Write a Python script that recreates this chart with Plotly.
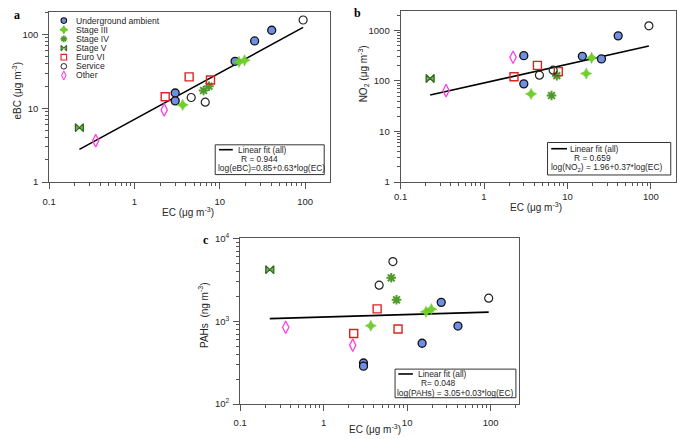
import numpy as np
import plotly.graph_objects as go

W, H = 677, 439

# ---------------- data ----------------
ec_underground = [3.0, 3.0, 15.1, 25.6, 40.6]
ebc_underground = [16.1, 12.6, 43.3, 81.6, 114]
no2_underground = [316, 87.5, 307, 273, 778]
pah_underground = [313, 287, 542, 1686, 873]

ec_stage3 = [3.67, 16.8, 19.5]
ebc_stage3 = [11.1, 42.4, 44.6]
no2_stage3 = [55.4, 140, 285]
pah_stage3 = [881, 1297, 1396]

ec_stage4 = [6.45, 7.46]
ebc_stage4 = [17.4, 19.9]
no2_stage4 = [51.5, 127]
pah_stage4 = [3334, 1811]

ec_stage5 = [0.226]
ebc_stage5 = [5.46]
no2_stage5 = [112]
pah_stage5 = [4179]

ec_euro6 = [2.29, 4.37, 7.78]
ebc_euro6 = [14.3, 26.6, 24.1]
no2_euro6 = [121, 203, 153]
pah_euro6 = [711, 1406, 805]

ec_service = [4.62, 6.75, 94.8]
ebc_service = [14.0, 12.1, 157]
no2_service = [130, 163, 1229]
pah_service = [2717, 5233, 1892]

ec_other = [0.351, 2.23]
ebc_other = [3.64, 9.5]
no2_other = [64.3, 294]
pah_other = [844, 514]

categories = ["Underground ambient", "Stage III", "Stage IV", "Stage V",
              "Euro VI", "Service", "Other"]

# fit coefficients: log(y) = a + b*log(EC)
fit_ebc = (0.85, 0.63)
fit_no2 = (1.96, 0.37)
fit_pah = (3.05, 0.03)
r_ebc, r_no2, r_pah = 0.944, 0.659, 0.048

# ---------------- styles ----------------
styles = {
    "Underground ambient": dict(symbol="circle", size=8, color="#6f8fe4",
                                line=dict(color="#111111", width=1.3)),
    "Stage III": dict(symbol="star-diamond", size=8, color="#6fd02a",
                      line=dict(color="#5cbf1c", width=0.5)),
    "Stage IV": dict(symbol="asterisk-open", size=8, color="#4f9a2a",
                     line=dict(color="#4f9a2a", width=2)),
    "Stage V": dict(symbol="bowtie", size=8, color="#7aac55",
                    line=dict(color="#2f6d1e", width=1.3)),
    "Euro VI": dict(symbol="square-open", size=8, color="#dd2222",
                    line=dict(color="#dd2222", width=1.4)),
    "Service": dict(symbol="circle-open", size=8, color="#222222",
                    line=dict(color="#222222", width=1.2)),
    "Other": dict(symbol="diamond-tall-open", size=9, color="#ff40e0",
                  line=dict(color="#ff40e0", width=1.3)),
}

ec_all = [ec_underground, ec_stage3, ec_stage4, ec_stage5, ec_euro6, ec_service, ec_other]
ebc_all = [ebc_underground, ebc_stage3, ebc_stage4, ebc_stage5, ebc_euro6, ebc_service, ebc_other]
no2_all = [no2_underground, no2_stage3, no2_stage4, no2_stage5, no2_euro6, no2_service, no2_other]
pah_all = [pah_underground, pah_stage3, pah_stage4, pah_stage5, pah_euro6, pah_service, pah_other]

FONT = "Liberation Sans, Arial, sans-serif"
AXC = "#555555"
TXT = "#262626"


def fx(p):
    return p / W


def fy(p):
    return 1 - p / H


fig = go.Figure()

panels = [
    dict(ax="", x=(42.7, 326.7), y=(4.7, 180.0), xr=[-1, 2.29], yr=[0, 2.31], ys=ebc_all, fit=fit_ebc),
    dict(ax="2", x=(398.3, 676.5), y=(4.0, 180.0), xr=[-1, 2.296], yr=[0, 3.385], ys=no2_all, fit=fit_no2),
    dict(ax="3", x=(236.0, 517.7), y=(237.7, 408.3), xr=[-1, 2.335], yr=[2, 4], ys=pah_all, fit=fit_pah),
]

ec_flat = np.concatenate([np.array(v, float) for v in ec_all])
ec_lo, ec_hi = ec_flat.min(), ec_flat.max()

for p in panels:
    xa, ya = "x" + p["ax"], "y" + p["ax"]
    a, b = p["fit"]
    xl = np.logspace(np.log10(ec_lo), np.log10(ec_hi), 30)
    yl = 10 ** (a + b * np.log10(xl))
    fig.add_trace(go.Scatter(x=xl, y=yl, mode="lines", xaxis=xa, yaxis=ya,
                             showlegend=False, line=dict(color="#000000", width=1.6)))
    for cat, xs, ys in zip(categories, ec_all, p["ys"]):
        st = styles[cat]
        fig.add_trace(go.Scatter(x=xs, y=ys, mode="markers", xaxis=xa, yaxis=ya,
                                 showlegend=False, name=cat,
                                 marker=dict(symbol=st["symbol"], size=st["size"],
                                             color=st["color"], line=st["line"])))


def xaxis_cfg(p, standoff):
    return dict(type="log", range=p["xr"], domain=[fx(p["x"][0]), fx(p["x"][1])],
                anchor="y" + p["ax"], showline=True, mirror=True, linecolor=AXC, linewidth=1,
                ticks="outside", ticklen=6, tickcolor=AXC, tickwidth=1,
                tickmode="array",
                tickvals=[0.1, 1, 10, 100], ticktext=["0.1", "1", "10", "100"],
                minor=dict(ticks="outside", ticklen=3, tickcolor=AXC, tickwidth=1,
                           dtick="D1", showgrid=False),
                ticklabelstandoff=standoff,
                showgrid=False, zeroline=False,
                tickfont=dict(family=FONT, size=9.5, color=TXT))


def yaxis_cfg(p, vals, text):
    return dict(type="log", range=p["yr"], domain=[fy(p["y"][1]), fy(p["y"][0])],
                anchor="x" + p["ax"], showline=True, mirror=True, linecolor=AXC, linewidth=1,
                ticks="outside", ticklen=6, tickcolor=AXC, tickwidth=1,
                tickmode="array",
                tickvals=vals, ticktext=text,
                minor=dict(ticks="outside", ticklen=3, tickcolor=AXC, tickwidth=1,
                           dtick="D1", showgrid=False),
                ticklabelstandoff=2,
                showgrid=False, zeroline=False,
                tickfont=dict(family=FONT, size=9.5, color=TXT))


pa, pb, pc = panels
layout = dict(
    width=W, height=H, margin=dict(l=0, r=0, t=0, b=0),
    paper_bgcolor="white", plot_bgcolor="rgba(0,0,0,0)", showlegend=False,
    xaxis=xaxis_cfg(pa, 5), yaxis=yaxis_cfg(pa, [1, 10, 100], ["1", "10", "100"]),
    xaxis2=xaxis_cfg(pb, 0), yaxis2=yaxis_cfg(pb, [1, 10, 100, 1000], ["1", "10", "100", "1000"]),
    xaxis3=xaxis_cfg(pc, 3),
    yaxis3=yaxis_cfg(pc, [100, 1000, 10000], ["10<sup>2</sup>", "10<sup>3</sup>", "10<sup>4</sup>"]),
    xaxis4=dict(domain=[0, 1], range=[0, W], visible=False, fixedrange=True, anchor="y4"),
    yaxis4=dict(domain=[0, 1], range=[H, 0], visible=False, fixedrange=True, anchor="x4"),
)
fig.update_layout(**layout)

# ---------------- legend (panel a) drawn on an overlay axis ----------------
leg_x, leg_y0, leg_dy, leg_tx = 57.5, 14.0, 9.4, 69
for i, cat in enumerate(categories):
    st = styles[cat]
    fig.add_trace(go.Scatter(x=[leg_x], y=[leg_y0 + i * leg_dy], mode="markers",
                             xaxis="x4", yaxis="y4", showlegend=False, hoverinfo="skip",
                             marker=dict(symbol=st["symbol"], size=st["size"] * 0.7,
                                         color=st["color"],
                                         line=dict(color=st["line"]["color"],
                                                   width=max(1.0, st["line"]["width"] * 0.8)))))

annotations = []
shapes = []


def txt(x, y, s, size=8.4, xanchor="left", yanchor="middle", family=FONT, angle=0, color=TXT):
    annotations.append(dict(x=fx(x), y=fy(y), xref="paper", yref="paper", text=s,
                            showarrow=False, xanchor=xanchor, yanchor=yanchor, textangle=angle,
                            borderpad=0,
                            font=dict(family=family, size=size, color=color)))


for i, cat in enumerate(categories):
    txt(leg_tx, leg_y0 + i * leg_dy, cat, size=8.6)

fit_boxes = [
    dict(box=(210.7, 141.7, 321.0, 172.3), line=(214.5, 228.5), ly=146.7, t1x=232.5,
         rx=235.5, ry=156.0, eqx=212.5, eqy=165.5,
         r="R = %.3f" % r_ebc,
         eq="log(eBC)=%.2f+%.2f*log(EC)" % fit_ebc),
    dict(box=(547.0, 139.3, 671.7, 172.7), line=(550.7, 566.7), ly=145.7, t1x=569.0,
         rx=572.5, ry=155.3, eqx=549.0, eqy=165.3,
         r="R = %.3f" % r_no2,
         eq="log(NO<sub>2</sub>) = %.2f+%.2f*log(EC)" % fit_no2),
    dict(box=(392.7, 372.3, 515.0, 401.7), line=(396.0, 410.7), ly=377.3, t1x=415.0,
         rx=418.0, ry=386.7, eqx=394.0, eqy=396.7,
         r="R= %.3f" % r_pah,
         eq="log(PAHs) = %.2f+%.2f*log(EC)" % fit_pah),
]
for fb in fit_boxes:
    x0, y0, x1, y1 = fb["box"]
    shapes.append(dict(type="rect", xref="paper", yref="paper", x0=fx(x0), x1=fx(x1),
                       y0=fy(y1), y1=fy(y0), line=dict(color="#333333", width=1),
                       fillcolor="white", layer="above"))
    shapes.append(dict(type="line", xref="paper", yref="paper", x0=fx(fb["line"][0]),
                       x1=fx(fb["line"][1]), y0=fy(fb["ly"]), y1=fy(fb["ly"]),
                       line=dict(color="#000000", width=1.6), layer="above"))
    txt(fb["t1x"], fb["ly"], "Linear fit (all)")
    txt(fb["rx"], fb["ry"], fb["r"])
    txt(fb["eqx"], fb["eqy"], fb["eq"])

txt(183, 211, "EC (μg m<sup>-3</sup>)", size=10, xanchor="center")
txt(535, 205.5, "EC (μg m<sup>-3</sup>)", size=10, xanchor="center")
txt(372, 434, "EC (μg m<sup>-3</sup>)", size=10, xanchor="center")
txt(10, 86, "eBC (μg m<sup>-3</sup>)", size=10, xanchor="center", angle=-90)
txt(360.5, 69, "NO<sub>2</sub> (μg m<sup>-3</sup>)", size=10, xanchor="center", angle=-90)
txt(199, 317, "PAHs  (ng m<sup>-3</sup>)", size=10, xanchor="center", angle=-90)

SERIF = "Liberation Serif, Times New Roman, serif"
txt(10, 8, "<b>a</b>", size=12, xanchor="center", family=SERIF, color="#000")
txt(355, 6, "<b>b</b>", size=12, xanchor="center", family=SERIF, color="#000")
txt(201.5, 240, "<b>c</b>", size=12, xanchor="center", family=SERIF, color="#000")

fig.update_layout(annotations=annotations, shapes=shapes)
fig.write_html("out.html", config={"displayModeBar": False},
               post_script="document.body.style.margin='0';document.body.style.overflow='hidden';")
